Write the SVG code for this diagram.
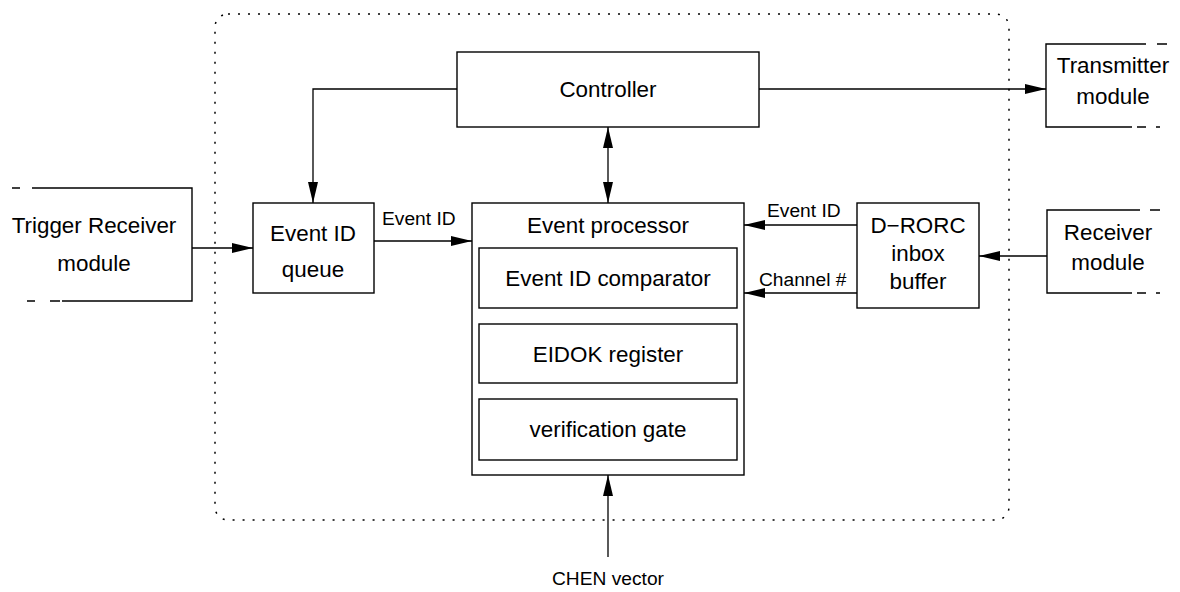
<svg xmlns="http://www.w3.org/2000/svg" width="1180" height="592" viewBox="0 0 1180 592">
  <defs>
    <marker id="arrow" markerUnits="userSpaceOnUse" markerWidth="22" markerHeight="11" refX="21" refY="5" orient="auto-start-reverse">
      <path d="M0,0 L21,5 L0,10 Z" fill="#000"/>
    </marker>
  </defs>
  <style>
    .box { fill: #fff; stroke: #000; stroke-width: 1.4; }
    .edge { fill: none; stroke: #000; stroke-width: 1.4; }
    .wire { fill: none; stroke: #000; stroke-width: 1.3; }
    .open { fill: none; stroke: #000; stroke-width: 1.4; }
    .txt { font-family: "Liberation Sans", Arial, sans-serif; font-size: 22.4px; fill: #000; text-anchor: middle; }
    .lbl { font-family: "Liberation Sans", Arial, sans-serif; font-size: 19.2px; fill: #000; }
    .bound { fill: none; stroke: #000; stroke-width: 1.5; stroke-dasharray: 2 8; }
  </style>

  <rect width="1180" height="592" fill="#fff"/>

  <!-- system boundary -->
  <rect class="bound" x="215" y="14" width="794" height="506" rx="13" ry="13"/>

  <!-- connectors -->
  <g id="connectors">
    <path class="wire" d="M457,89 H313 V203" marker-end="url(#arrow)"/>
    <path class="wire" d="M759,89 H1046" marker-end="url(#arrow)"/>
    <path class="wire" d="M608,127 V203" marker-start="url(#arrow)" marker-end="url(#arrow)"/>
    <path class="wire" d="M192,248 H253" marker-end="url(#arrow)"/>
    <path class="wire" d="M374,241 H472" marker-end="url(#arrow)"/>
    <text class="lbl" x="382" y="225">Event ID</text>
    <path class="wire" d="M857,225 H744" marker-end="url(#arrow)"/>
    <text class="lbl" x="767" y="217">Event ID</text>
    <path class="wire" d="M857,293 H744" marker-end="url(#arrow)"/>
    <text class="lbl" x="759" y="286">Channel #</text>
    <path class="wire" d="M1047,256 H979" marker-end="url(#arrow)"/>
    <path class="wire" d="M608,557 V475" marker-end="url(#arrow)"/>
    <text class="lbl" x="608" y="585" text-anchor="middle">CHEN vector</text>
  </g>

  <!-- external modules, drawn open-ended -->
  <g id="trigger-receiver">
    <path class="open" d="M32,188 H192 V301 H62"/>
    <path class="open" d="M12,188 H20 M27,301 H35 M50,301 H60"/>
    <text class="txt" x="94" y="233">Trigger Receiver</text>
    <text class="txt" x="94" y="271">module</text>
  </g>

  <g id="transmitter">
    <path class="open" d="M1146,44 H1046 V127 H1132"/>
    <path class="open" d="M1157,44 H1167 M1137,127 H1146 M1156,127 H1160"/>
    <text class="txt" x="1113" y="73">Transmitter</text>
    <text class="txt" x="1113" y="104">module</text>
  </g>

  <g id="receiver">
    <path class="open" d="M1140,210 H1047 V293 H1132"/>
    <path class="open" d="M1150,210 H1160 M1137,293 H1146 M1156,293 H1160"/>
    <text class="txt" x="1108" y="240">Receiver</text>
    <text class="txt" x="1108" y="270">module</text>
  </g>

  <!-- internal blocks -->
  <g id="controller">
    <rect class="box" x="457" y="52" width="302" height="75"/>
    <text class="txt" x="608" y="97">Controller</text>
  </g>

  <g id="event-id-queue">
    <rect class="box" x="253" y="203" width="121" height="90"/>
    <text class="txt" x="313" y="241">Event ID</text>
    <text class="txt" x="313" y="277">queue</text>
  </g>

  <g id="drorc-inbox">
    <rect class="box" x="857" y="203" width="122" height="105"/>
    <text class="txt" x="918" y="233">D&#8722;RORC</text>
    <text class="txt" x="918" y="261">inbox</text>
    <text class="txt" x="918" y="289">buffer</text>
  </g>

  <g id="event-processor">
    <rect class="box" x="472" y="203" width="272" height="272"/>
    <text class="txt" x="608" y="233">Event processor</text>
    <g id="eid-comparator">
      <rect class="box" x="479" y="248" width="258" height="60"/>
      <text class="txt" x="608" y="286">Event ID comparator</text>
    </g>
    <g id="eidok-register">
      <rect class="box" x="479" y="324" width="258" height="59"/>
      <text class="txt" x="608" y="362">EIDOK register</text>
    </g>
    <g id="verification-gate">
      <rect class="box" x="479" y="399" width="258" height="61"/>
      <text class="txt" x="608" y="437">verification gate</text>
    </g>
  </g>
</svg>
